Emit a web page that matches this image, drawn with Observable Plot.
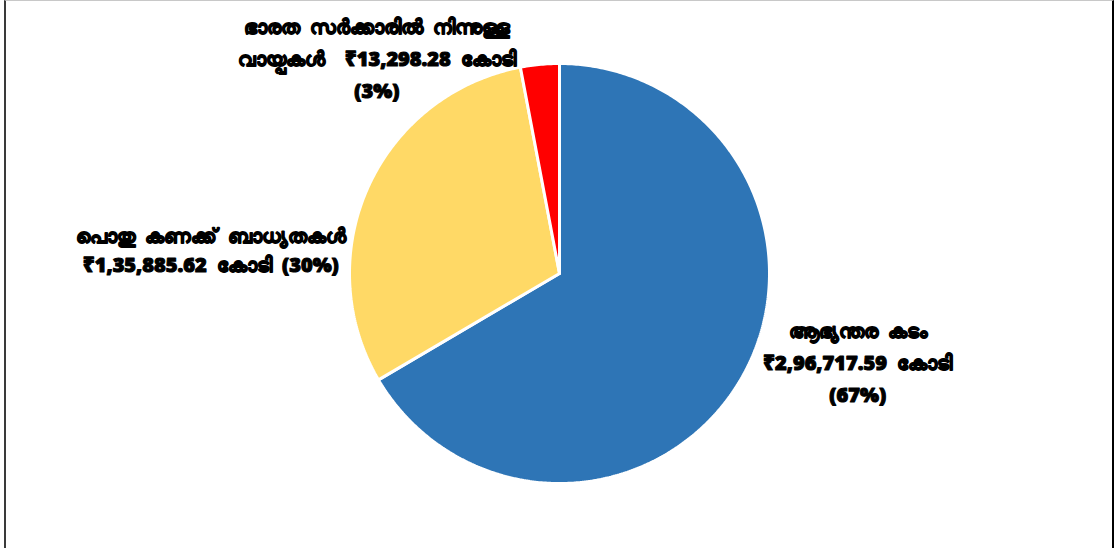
<!DOCTYPE html>
<html>
<head>
<meta charset="utf-8">
<script src="https://cdn.jsdelivr.net/npm/d3@7"></script>
<script src="https://cdn.jsdelivr.net/npm/@observablehq/plot@0.6"></script>
<style>
  html, body { margin: 0; padding: 0; background: #fff; }
  #wrap { position: relative; width: 1114px; height: 548px; overflow: hidden; }
  #chart { position: absolute; left: 0; top: 0; }
  #chart text { word-spacing: 5px; }
  #frame { position: absolute; left: 4px; top: 0; width: 1106px; height: 560px;
           border-left: 2px solid #3a3a3a; border-right: 2px solid #000; border-top: 1px solid #c8c8c8;
           pointer-events: none; }
</style>
</head>
<body>
<div id="wrap"><div id="chart"></div><div id="frame"></div></div>
<script>
// ---- data ----
const categories = ["ആഭ്യന്തര കടം", "പൊതു കണക്ക് ബാധ്യതകൾ", "ഭാരത സർക്കാരിൽ നിന്നുള്ള വായ്പകൾ"];
const values = [296717.59, 135885.62, 13298.28];
const amountLabels = ["₹2,96,717.59 കോടി", "₹1,35,885.62 കോടി", "₹13,298.28 കോടി"];
const percentLabels = ["(67%)", "(30%)", "(3%)"];
const labelTexts = [
  "ആഭ്യന്തര കടം\n₹2,96,717.59 കോടി\n(67%)",
  "പൊതു കണക്ക് ബാധ്യതകൾ\n₹1,35,885.62 കോടി (30%)",
  "ഭാരത സർക്കാരിൽ നിന്നുള്ള\nവായ്പകൾ  ₹13,298.28 കോടി\n(3%)"
];
const colors = ["#2E75B6", "#FFD966", "#FF0000"];

// ---- layout (label anchors in pie-radius units, not data) ----
const labelAnchors = [[1.42, -0.41, 1.6], [-1.66, 0.12, 1.45], [-0.87, 1.036, 1.6]];

// ---- build slice polygons with d3.pie (angles clockwise from 12 o'clock) ----
const arcs = d3.pie().sort(null).value(d => d)(values);
const slicePts = [];
arcs.forEach((a, i) => {
  const n = Math.max(4, Math.ceil((a.endAngle - a.startAngle) / 0.01));
  slicePts.push({cat: categories[i], x: 0, y: 0});
  for (let k = 0; k <= n; k++) {
    const t = a.startAngle + (a.endAngle - a.startAngle) * k / n;
    slicePts.push({cat: categories[i], x: Math.sin(t), y: Math.cos(t)});
  }
  slicePts.push({cat: categories[i], x: 0, y: 0});
});

const labels = categories.map((c, i) => ({
  cat: c, text: labelTexts[i],
  x: labelAnchors[i][0], y: labelAnchors[i][1], lh: labelAnchors[i][2]
}));

const W = 1114, H = 548;
const chart = Plot.plot({
  width: W, height: H,
  marginLeft: 349, marginRight: 345, marginTop: 63, marginBottom: 65,
  x: {domain: [-1, 1], axis: null},
  y: {domain: [-1, 1], axis: null},
  color: {domain: categories, range: colors},
  style: {background: "transparent", fontFamily: "'Noto Sans', 'DejaVu Sans', sans-serif"},
  marks: [
    Plot.line(slicePts, {x: "x", y: "y", z: "cat", fill: "cat", stroke: "white", strokeWidth: 3, strokeLinejoin: "miter", curve: "linear"}),
    ...labels.map(l => Plot.text([l], {
      x: "x", y: "y", text: "text", textAnchor: "middle", lineAnchor: "middle",
      lineHeight: l.lh, fontSize: 20, fontWeight: 900, fill: "#000",
      stroke: "#000", strokeWidth: 1.1, paintOrder: "fill"
    }))
  ]
});
document.getElementById("chart").appendChild(chart);
</script>
</body>
</html>
